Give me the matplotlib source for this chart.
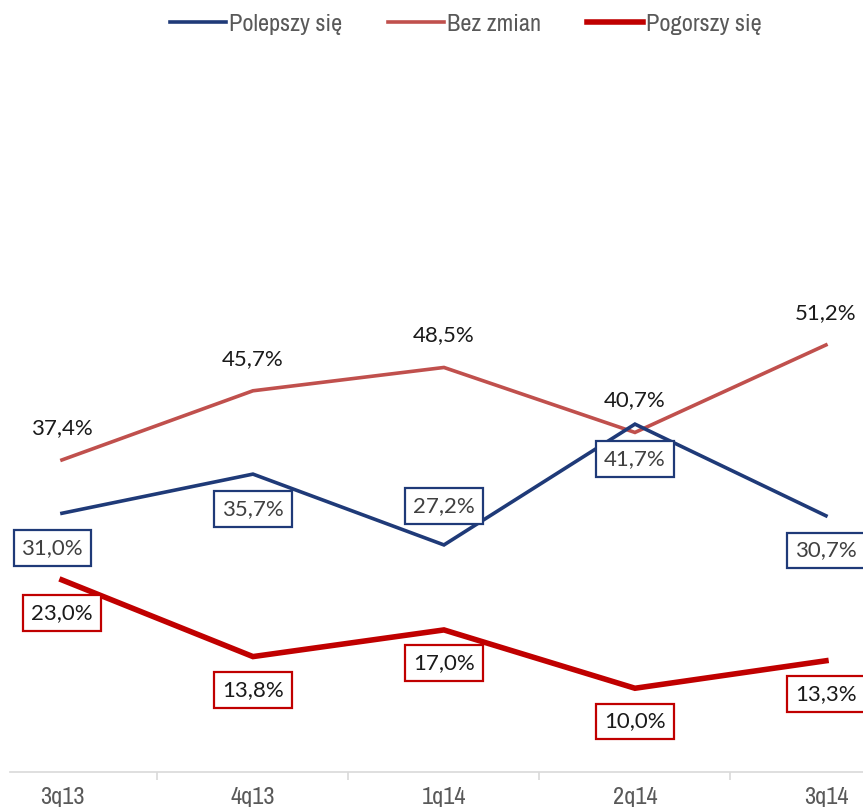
import matplotlib

matplotlib.use("Agg")
import matplotlib.pyplot as plt
from matplotlib import font_manager
from matplotlib.lines import Line2D

quarters = ["3q13", "4q13", "1q14", "2q14", "3q14"]
polepszy = [31.0, 35.7, 27.2, 41.7, 30.7]
bez_zmian = [37.4, 45.7, 48.5, 40.7, 51.2]
pogorszy = [23.0, 13.8, 17.0, 10.0, 13.3]

NAVY = "#1F3A78"
SALMON = "#C0504D"
RED = "#C00000"
GREY = "#595959"

# narrow font for legend / axis if one is installed, else plain Liberation Sans
_names = sorted({f.name for f in font_manager.fontManager.ttflist})
_narrow = [n for n in _names if "Narrow" in n or "Condensed" in n]
if _narrow:
    AXIS_FONT, AXIS_SIZE = _narrow[0], 17.5
else:
    AXIS_FONT, AXIS_SIZE = "Liberation Sans", 14.5

DPI = 100
fig = plt.figure(figsize=(863 / DPI, 807 / DPI), dpi=DPI)
ax = fig.add_axes([10 / 863, 0.0439, 853 / 863, 0.826])

x = list(range(len(quarters)))
ax.plot(x, bez_zmian, color=SALMON, lw=2.6, solid_joinstyle="miter", zorder=2)
ax.plot(x, polepszy, color=NAVY, lw=2.6, solid_joinstyle="miter", zorder=2)
ax.plot(x, pogorszy, color=RED, lw=4.0, solid_joinstyle="miter", zorder=2)

label_font = dict(family=["Lato", "DejaVu Sans"], fontsize=16)


def fmt(v):
    return f"{v:.1f}%".replace(".", ",")


for xi, v in zip(x, bez_zmian):
    ax.annotate(fmt(v), (xi, v), xytext=(0, 23), textcoords="offset points",
                ha="center", va="center", color="#1a1a1a", **label_font)

for xi, v in zip(x, polepszy):
    dy = 28 if v == min(polepszy) else -25
    dx = -7 if xi == 0 else 0
    ax.annotate(fmt(v), (xi, v), xytext=(dx, dy), textcoords="offset points",
                ha="center", va="center", color="#404040", zorder=5,
                bbox=dict(boxstyle="square,pad=0.35", fc="white", ec=NAVY, lw=1.6),
                **label_font)

for xi, v in zip(x, pogorszy):
    ax.annotate(fmt(v), (xi, v), xytext=(0, -24), textcoords="offset points",
                ha="center", va="center", color="#1a1a1a", zorder=5,
                bbox=dict(boxstyle="square,pad=0.35", fc="white", ec=RED, lw=1.6),
                **label_font)

ax.set_xlim(-0.272, 4.194)
ax.set_ylim(0, 80)

for side in ("left", "top", "right"):
    ax.spines[side].set_visible(False)
ax.spines["bottom"].set_color("#D9D9D9")
ax.spines["bottom"].set_linewidth(1.2)
ax.set_yticks([])

ax.set_xticks(x)
ax.set_xticklabels(quarters, family=[AXIS_FONT, "DejaVu Sans"],
                   fontsize=AXIS_SIZE, color=GREY)
ax.set_xticks([0.5, 1.5, 2.5, 3.5], minor=True)
ax.tick_params(axis="x", which="major", length=0, pad=11)
ax.tick_params(axis="x", which="minor", length=6, width=1.2, color="#D9D9D9")

handles = [
    Line2D([], [], color=NAVY, lw=2.6),
    Line2D([], [], color=SALMON, lw=2.6),
    Line2D([], [], color=RED, lw=4.0),
]
fig.legend(handles, ["Polepszy się", "Bez zmian", "Pogorszy się"],
           loc="upper center", bbox_to_anchor=(0.54, 1.01), ncol=3,
           frameon=False, handlelength=2.3, handletextpad=0.12,
           columnspacing=1.9,
           prop=dict(family=[AXIS_FONT, "DejaVu Sans"], size=AXIS_SIZE),
           labelcolor=GREY)

fig.savefig("out.png", dpi=DPI)
plt.close(fig)
